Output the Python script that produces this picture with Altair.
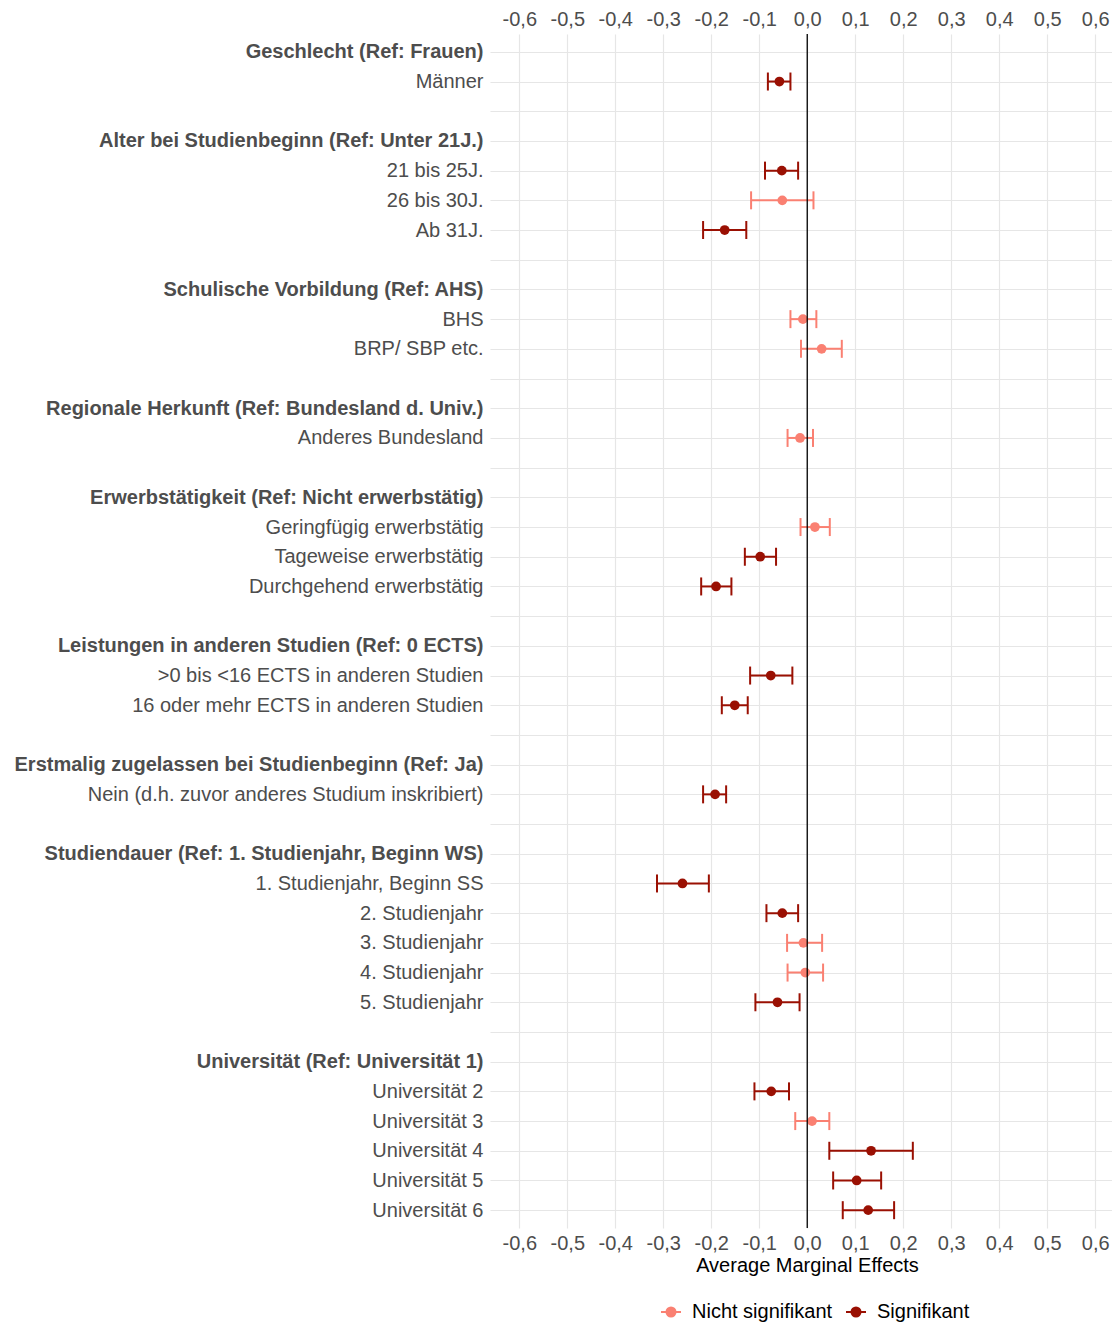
import json
import altair as alt
import pandas as pd

# ---- data -------------------------------------------------------------
headers = [
    "Geschlecht (Ref: Frauen)",
    "Alter bei Studienbeginn (Ref: Unter 21J.)",
    "Schulische Vorbildung (Ref: AHS)",
    "Regionale Herkunft (Ref: Bundesland d. Univ.)",
    "Erwerbstätigkeit (Ref: Nicht erwerbstätig)",
    "Leistungen in anderen Studien (Ref: 0 ECTS)",
    "Erstmalig zugelassen bei Studienbeginn (Ref: Ja)",
    "Studiendauer (Ref: 1. Studienjahr, Beginn WS)",
    "Universität (Ref: Universität 1)",
]

groups = [
    ["Männer"],
    ["21 bis 25J.", "26 bis 30J.", "Ab 31J."],
    ["BHS", "BRP/ SBP etc."],
    ["Anderes Bundesland"],
    ["Geringfügig erwerbstätig", "Tageweise erwerbstätig", "Durchgehend erwerbstätig"],
    [">0 bis <16 ECTS in anderen Studien", "16 oder mehr ECTS in anderen Studien"],
    ["Nein (d.h. zuvor anderes Studium inskribiert)"],
    ["1. Studienjahr, Beginn SS", "2. Studienjahr", "3. Studienjahr",
     "4. Studienjahr", "5. Studienjahr"],
    ["Universität 2", "Universität 3", "Universität 4", "Universität 5", "Universität 6"],
]

terms = [t for g in groups for t in g]

estimate = [-0.058,
            -0.053, -0.052, -0.172,
            -0.009, 0.030,
            -0.015,
            0.016, -0.098, -0.190,
            -0.076, -0.151,
            -0.192,
            -0.260, -0.052, -0.008, -0.004, -0.062,
            -0.075, 0.010, 0.133, 0.103, 0.127]

ci_low = [-0.082,
          -0.088, -0.117, -0.217,
          -0.035, -0.013,
          -0.041,
          -0.014, -0.130, -0.221,
          -0.119, -0.178,
          -0.217,
          -0.313, -0.085, -0.042, -0.041, -0.108,
          -0.110, -0.025, 0.046, 0.054, 0.074]

ci_high = [-0.035,
           -0.019, 0.013, -0.127,
           0.019, 0.072,
           0.012,
           0.047, -0.065, -0.158,
           -0.031, -0.124,
           -0.169,
           -0.205, -0.019, 0.031, 0.033, -0.016,
           -0.038, 0.046, 0.220, 0.154, 0.181]

signif = ["Signifikant",
          "Signifikant", "Nicht signifikant", "Signifikant",
          "Nicht signifikant", "Nicht signifikant",
          "Nicht signifikant",
          "Nicht signifikant", "Signifikant", "Signifikant",
          "Signifikant", "Signifikant",
          "Signifikant",
          "Signifikant", "Signifikant", "Nicht signifikant", "Nicht signifikant", "Signifikant",
          "Signifikant", "Nicht signifikant", "Signifikant", "Signifikant", "Signifikant"]

sig_levels = ["Nicht signifikant", "Signifikant"]
x_ticks = [round(v / 10, 1) for v in range(-6, 7)]

# row order: header, its items, then an empty spacer row
rows = []
for i, (h, g) in enumerate(zip(headers, groups)):
    rows.append(h)
    rows.extend(g)
    if i < len(headers) - 1:
        rows.append(" " * (i + 1))

df = pd.DataFrame({"term": terms, "est": estimate, "lo": ci_low,
                   "hi": ci_high, "sig": signif})

# ---- styling ----------------------------------------------------------
SALMON = "#FA8072"
DARK = "#9A1003"
GRID = "#E6E6E6"
TXT = "#4D4D4D"
FONT = "Liberation Sans"

W, H = 622, 1194
xscale = alt.Scale(domain=[-0.661, 0.635], nice=False, zero=False)
yscale = alt.Scale(domain=rows, type="point", padding=0.6)
cscale = alt.Scale(domain=sig_levels, range=[SALMON, DARK])

label_expr = "replace(replace(format(datum.value, '.1f'), '.', ','), '\u2212', '-')"
bold_test = "indexof(" + json.dumps(headers, ensure_ascii=False) + ", datum.value) >= 0"

legend = alt.Legend(
    title=None, orient="none", direction="horizontal",
    legendX=170, legendY=1267, padding=0,
    symbolType="M-1,0L1,0M-0.45,0A0.45,0.45,0,1,1,0.45,0A0.45,0.45,0,1,1,-0.45,0Z",
    symbolSize=400, symbolStrokeWidth=2,
    labelFontSize=20, labelColor="#000000", labelFont=FONT,
    labelOffset=10, columnPadding=9, labelLimit=400,
)

color = alt.Color("sig:N", scale=cscale, legend=legend)
stroke = alt.Stroke("sig:N", scale=cscale, legend=legend)

base = alt.Chart(df)

top_axis = alt.Axis(orient="top", values=x_ticks, labelExpr=label_expr, title=None,
                    grid=False, ticks=False, tickSize=0, domain=False,
                    labelFontSize=20, labelColor=TXT, labelPadding=5)
bottom_axis = alt.Axis(orient="bottom", values=x_ticks, labelExpr=label_expr,
                       title="Average Marginal Effects", titleFontSize=20,
                       titleColor="#000000", titleFontWeight="normal", titlePadding=2,
                       titleX=317,
                       grid=True, gridColor=GRID, gridWidth=1.2,
                       ticks=False, tickSize=0, domain=False,
                       labelFontSize=20, labelColor=TXT, labelPadding=5)
y_axis = alt.Axis(title=None, grid=True, gridColor=GRID, gridWidth=1.2,
                  ticks=False, tickSize=0, domain=False, labelFontSize=20,
                  labelColor=TXT, labelPadding=7, labelLimit=0,
                  labelFontWeight=alt.condition(bold_test, alt.value("bold"), alt.value("normal")))

points = base.mark_point(filled=True, size=95, opacity=1).encode(
    x=alt.X("est:Q", scale=xscale, axis=bottom_axis),
    y=alt.Y("term:N", scale=yscale, axis=y_axis),
    color=color,
)
bars = base.mark_rule(strokeWidth=2).encode(
    x=alt.X("lo:Q", scale=xscale, axis=top_axis),
    x2="hi:Q",
    y=alt.Y("term:N", scale=yscale),
    stroke=stroke,
)
cap_lo = base.mark_tick(orient="vertical", size=18, thickness=2, opacity=1).encode(
    x=alt.X("lo:Q", scale=xscale, axis=None),
    y=alt.Y("term:N", scale=yscale),
    color=color,
)
cap_hi = base.mark_tick(orient="vertical", size=18, thickness=2, opacity=1).encode(
    x=alt.X("hi:Q", scale=xscale, axis=None),
    y=alt.Y("term:N", scale=yscale),
    color=color,
)
zero = alt.Chart(pd.DataFrame({"z": [0.0]})).mark_rule(color="black", strokeWidth=1.3).encode(
    x=alt.X("z:Q", scale=xscale, axis=None),
)

chart = alt.layer(points, bars, cap_lo, cap_hi, zero).properties(
    width=W, height=H,
    autosize=alt.AutoSizeParams(type="none"),
    padding={"left": 482, "top": 26, "right": 0, "bottom": 94},
).configure(font=FONT).configure_view(stroke=None)

chart.save("out.html", embed_options={"renderer": "svg", "actions": False})
